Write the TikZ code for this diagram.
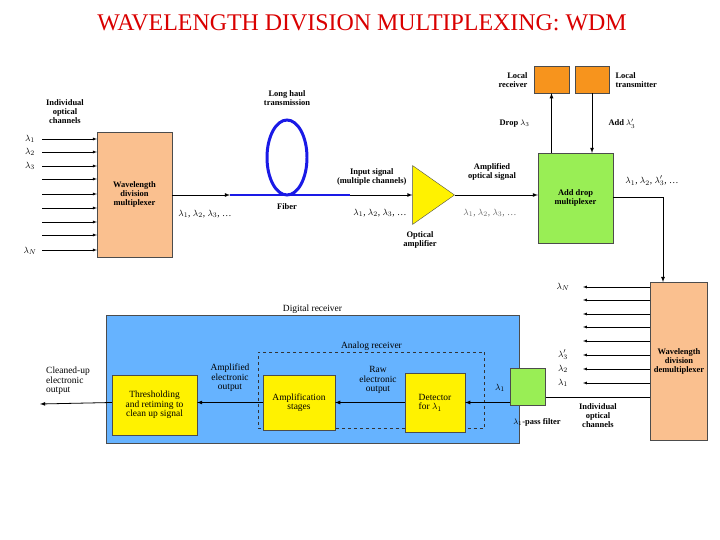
\documentclass[tikz,border=0pt]{standalone}
\usepackage{fontspec}
\setmainfont{Liberation Serif}
\usetikzlibrary{shapes.geometric}
\definecolor{peach}{HTML}{FAC08F}
\definecolor{lorange}{HTML}{F7941D}
\definecolor{lgreen}{HTML}{99EE55}
\definecolor{skyb}{HTML}{66B3FF}
\definecolor{fiberb}{HTML}{1A1AE6}
\tikzset{
  box/.style={draw=black!70,minimum width=#1},
  lab/.style={font=\fontsize{8.5}{9}\selectfont\bfseries,align=center},
  thin/.style={font=\fontsize{9.5}{9.5}\selectfont,align=center,inner sep=1pt},
  sig/.style={->,>=latex,thick},
}
\begin{document}
\begin{tikzpicture}[x=1bp,y=-1bp]
            \useasboundingbox (0,0) rectangle (720,540);
            \node[text=red!85!black,font=\fontsize{24}{26}\selectfont] (title) at (362,23) {WAVELENGTH DIVISION MULTIPLEXING: WDM};

            % multiplexer
            \node[box=75,minimum height=125,fill=peach,lab] (mux) at (134.5,194.5) {Wavelength\\division\\multiplexer};
            \foreach \y in {139,152,166,179,194,208,222,235,250}
              \draw[->,>=latex] (42,\y) -- (mux.west |- 0,\y);
            \node[thin] (l1) at (30,139) {$\lambda_1$};
            \node[thin] (l2) at (30,152) {$\lambda_2$};
            \node[thin] (l3) at (30,166) {$\lambda_3$};
            \node[thin] (ln) at (30,251) {$\lambda_N$};
            \node[lab] (inch) at (65,112) {Individual\\optical\\channels};

            % fiber
            \coordinate (fa) at (230,195);
            \coordinate (fb) at (350,195);
            \draw[->,>=latex,thick] (mux.east |- fa) -- (fa);
            \draw[fiberb,line width=3pt] (fa) -- (fb);
            \draw[fiberb,line width=3pt] (287,157.5) ellipse (20 and 37.5);
            \node[lab] (haul) at (287,98) {Long haul\\transmission};
            \node[lab] (fib) at (287,207) {Fiber};
            \node[thin] (s1) at (205,214) {$\lambda_1$, $\lambda_2$, $\lambda_3$, \dots};

            % amplifier
            \node[isosceles triangle,isosceles triangle stretches,draw=black!70,fill=yellow,minimum height=42,minimum width=59,inner sep=0,anchor=apex] (amp) at (455,195) {};
            \draw[sig] (fb) -- (amp.west);
            \node[lab,anchor=east] (insig) at (410,177) {Input signal\\(multiple channels)};
            \node[thin] (s2) at (380,213) {$\lambda_1$, $\lambda_2$, $\lambda_3$, \dots};
            \node[lab] (oamp) at (420,240) {Optical\\amplifier};

            % add drop
            \node[box=75,minimum height=90,fill=lgreen,lab] (adm) at (575.5,198) {Add drop\\multiplexer};
            \draw[sig] (amp.apex) -- (adm.west |- amp.apex);
            \node[lab] (ampsig) at (492,172) {Amplified\\optical signal};
            \node[thin,text=black!60] (s3) at (490,213) {$\lambda_1$, $\lambda_2$, $\lambda_3$, \dots};
            \node[box=35,minimum height=27,fill=lorange] (lrx) at (551.5,79.5) {};
            \node[box=34,minimum height=27,fill=lorange] (ltx) at (592,79.5) {};
            \draw[sig] (adm.north -| lrx) -- (lrx.south);
            \draw[sig] (ltx.south) -- (adm.north -| ltx);
            \node[lab,align=right,anchor=east] (lrxt) at (531,80) {Local\\receiver};
            \node[lab,align=left,anchor=west] (ltxt) at (612,80) {Local\\transmitter};
            \node[lab,anchor=east] (drop) at (533,124) {Drop $\lambda_3$};
            \node[lab,anchor=west] (add) at (605,124) {Add $\lambda'_3$};

            % demultiplexer
            \node[box=48,minimum height=158,fill=peach,lab] (dmx) at (679,361) {Wavelength\\division\\demultiplexer};
            \coordinate (turn) at (663,197);
            \draw[sig] (adm.east |- turn) -- (turn) -- (dmx.north -| turn);
            \node[thin] (s4) at (652,181) {$\lambda_1$, $\lambda_2$, $\lambda'_3$, \dots};
            \foreach \y in {287,300,314,327,341,355,369,383}
              \draw[->,>=latex] (dmx.west |- 0,\y) -- (583,\y);
            \node[thin] (dn) at (563,287) {$\lambda_N$};
            \node[thin] (d3) at (563,355) {$\lambda'_3$};
            \node[thin] (d2) at (563,369) {$\lambda_2$};
            \node[thin] (d1) at (563,383) {$\lambda_1$};
            \node[lab] (onch) at (598,416) {Individual\\optical\\channels};

            % receivers
            \node[draw=black!70,fill=skyb,minimum width=415,minimum height=128] (dig) at (312.5,379) {};
            \node[thin,anchor=south] (digt) at (dig.north) {Digital receiver};
            \node[draw=black!80,dashed,minimum width=227,minimum height=76] (ana) at (371.5,390) {};
            \node[thin,anchor=south] (anat) at (ana.north) {Analog receiver};
            \node[box=35,minimum height=37,fill=lgreen] (filt) at (528,386.5) {};
            \node[lab] (filtt) at (537,422) {$\lambda_1$-pass filter};
            \draw (dmx.west |- 0,397) -- (filt.east |- 0,397);
            \node[box=60,minimum height=59,fill=yellow,thin,align=left] (det) at (435,402.5) {Detector\\for $\lambda_1$};
            \node[box=72,minimum height=55,fill=yellow,thin] (ampl) at (299,402.5) {Amplification\\stages};
            \node[box=85,minimum height=60,fill=yellow,thin] (thr) at (154.5,405) {Thresholding\\and retiming to\\clean up signal};
            \coordinate (cout) at (40,404);
            \draw[sig] (filt.west |- det) -- (det.east);
            \node[thin] (fl1) at (500,388) {$\lambda_1$};
            \draw[sig] (det.west) -- (ampl.east);
            \draw[sig] (ampl.west) -- (thr.east |- ampl);
            \draw[sig] (thr.west |- ampl) -- (cout);
            \node[thin] (raw) at (378,380) {Raw\\electronic\\output};
            \node[thin] (amout) at (230,378) {Amplified\\electronic\\output};
            \node[thin,align=left] (clean) at (68,381) {Cleaned-up\\electronic\\output};
\end{tikzpicture}
\end{document}
